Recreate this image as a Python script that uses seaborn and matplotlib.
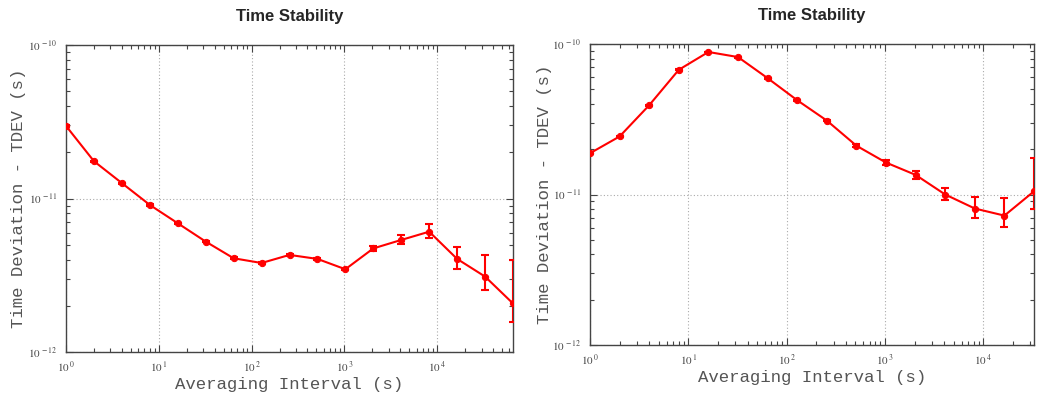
import numpy as np
import pandas as pd
import matplotlib
matplotlib.use("Agg")
import matplotlib.pyplot as plt
import seaborn as sns
from matplotlib.ticker import LogLocator, FuncFormatter, NullFormatter

sns.set_style("ticks")
plt.rcParams["mathtext.fontset"] = "stix"

# --- Data: left panel ---
tau_left = [1, 2, 4, 8, 16, 32, 64, 128, 256, 512, 1024, 2048, 4096, 8192, 16384, 32768, 65536]
tdev_left = [2.97e-11, 1.75e-11, 1.26e-11, 9.08e-12, 6.9e-12, 5.24e-12, 4.08e-12, 3.80e-12,
             4.29e-12, 4.04e-12, 3.46e-12, 4.73e-12, 5.37e-12, 6.08e-12, 4.04e-12, 3.10e-12, 2.07e-12]
lo_left = [2.95e-11, 1.74e-11, 1.25e-11, 9.0e-12, 6.84e-12, 5.18e-12, 4.03e-12, 3.75e-12,
           4.22e-12, 3.97e-12, 3.40e-12, 4.57e-12, 5.05e-12, 5.56e-12, 3.47e-12, 2.54e-12, 1.57e-12]
hi_left = [2.99e-11, 1.76e-11, 1.27e-11, 9.16e-12, 6.96e-12, 5.30e-12, 4.13e-12, 3.85e-12,
           4.36e-12, 4.11e-12, 3.52e-12, 4.91e-12, 5.78e-12, 6.82e-12, 4.85e-12, 4.28e-12, 3.97e-12]

# --- Data: right panel ---
tau_right = [1, 2, 4, 8, 16, 32, 64, 128, 256, 512, 1024, 2048, 4096, 8192, 16384, 32768]
tdev_right = [1.88e-11, 2.43e-11, 3.92e-11, 6.74e-11, 8.85e-11, 8.19e-11, 5.93e-11, 4.23e-11,
              3.10e-11, 2.11e-11, 1.63e-11, 1.35e-11, 1.0e-11, 8.07e-12, 7.24e-12, 1.05e-11]
lo_right = [1.87e-11, 2.41e-11, 3.89e-11, 6.69e-11, 8.79e-11, 8.13e-11, 5.88e-11, 4.19e-11,
            3.06e-11, 2.07e-11, 1.56e-11, 1.27e-11, 9.26e-12, 7.0e-12, 6.05e-12, 8.07e-12]
hi_right = [1.89e-11, 2.45e-11, 3.95e-11, 6.79e-11, 8.91e-11, 8.25e-11, 5.98e-11, 4.27e-11,
            3.14e-11, 2.15e-11, 1.70e-11, 1.43e-11, 1.11e-11, 9.66e-12, 9.5e-12, 1.76e-11]

x_decades = [1, 10, 100, 1000, 10000]
y_decades = [1e-12, 1e-11, 1e-10]

panels = [
    (tau_left, tdev_left, lo_left, hi_left, [66, 45, 513, 352], 65536, 26),
    (tau_right, tdev_right, lo_right, hi_right, [590, 44, 1034, 345], 32768, 552),
]

W, H = 1041, 393
fig = plt.figure(figsize=(W / 100, H / 100), dpi=100)

mono = "Liberation Mono"
label_color = "#555555"


def sci(v, pos):
    e = int(round(np.log10(v)))
    return r"$10^{\,%d}$" % e


for tau, tdev, lo, hi, box, xmax, ylab_x in panels:
    x0, y0, x1, y1 = box
    ax = fig.add_axes([x0 / W, 1 - y1 / H, (x1 - x0) / W, (y1 - y0) / H])
    df = pd.DataFrame({"tau": tau, "tdev": tdev, "lo": lo, "hi": hi})

    ax.errorbar(df["tau"], df["tdev"],
                yerr=[df["tdev"] - df["lo"], df["hi"] - df["tdev"]],
                fmt="none", ecolor="red", elinewidth=1.5, capsize=3, capthick=1.5, zorder=3)
    sns.lineplot(data=df, x="tau", y="tdev", ax=ax, color="red", linewidth=1.5,
                 marker="o", markersize=4.5, markeredgecolor="red", zorder=4)

    ax.set_xscale("log")
    ax.set_yscale("log")
    ax.set_xticks(x_decades)
    ax.set_yticks(y_decades)
    ax.xaxis.set_minor_locator(LogLocator(base=10, subs=np.arange(2, 10), numticks=20))
    ax.yaxis.set_minor_locator(LogLocator(base=10, subs=np.arange(2, 10), numticks=20))
    ax.xaxis.set_major_formatter(FuncFormatter(sci))
    ax.yaxis.set_major_formatter(FuncFormatter(sci))
    ax.xaxis.set_minor_formatter(NullFormatter())
    ax.yaxis.set_minor_formatter(NullFormatter())
    ax.set_xlim(1, xmax)
    ax.set_ylim(1e-12, 1e-10)

    ax.tick_params(which="both", direction="in", top=True, right=True, colors="#444444",
                   labelcolor="#444444", labelsize=8)
    ax.tick_params(which="major", length=5, width=0.8)
    ax.tick_params(which="minor", length=3, width=0.8)
    ax.tick_params(axis="x", pad=6)
    ax.tick_params(axis="y", pad=6)

    ax.grid(which="major", linestyle=(0, (1, 2)), color="#aaaaaa", linewidth=0.8)
    for s in ax.spines.values():
        s.set_color("#444444")
        s.set_linewidth(1.0)

    ax.set_title("Time Stability", fontsize=12, fontweight="bold", family="Liberation Sans", pad=17)
    ax.set_xlabel("Averaging Interval (s)", family=mono, fontsize=12.5, color=label_color, labelpad=1)
    ax.set_ylabel("Time Deviation - TDEV (s)", family=mono, fontsize=12.5, color=label_color)
    ax.yaxis.set_label_coords((ylab_x - x0) / (x1 - x0), 0.5)

fig.savefig("out.png", dpi=100)
